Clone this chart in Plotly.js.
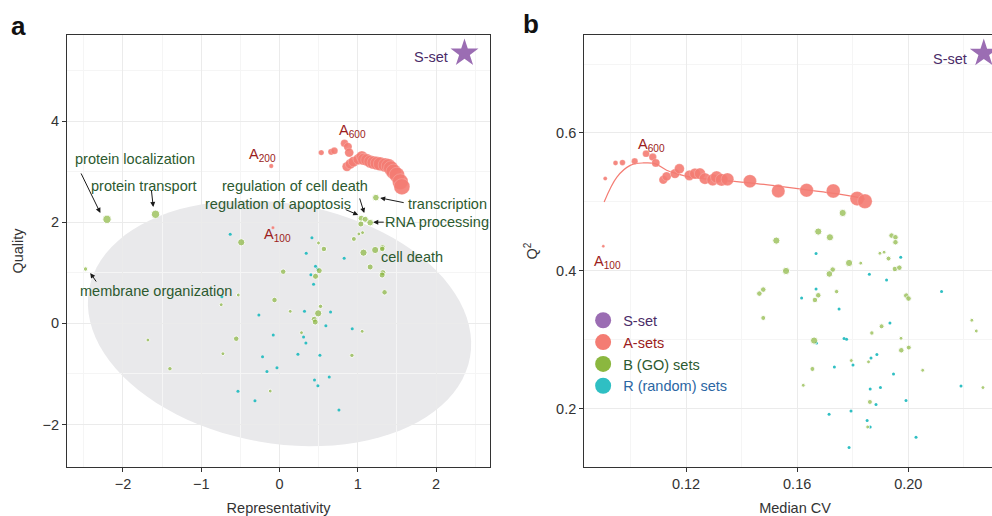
<!DOCTYPE html>
<html>
<head>
<meta charset="utf-8">
<script src="https://cdn.plot.ly/plotly-3.0.1.min.js"></script>
<style>
html, body { margin: 0; padding: 0; overflow: hidden; background: #fff; }
#chart { width: 1006px; height: 516px; }
</style>
</head>
<body>
<div id="chart"></div>
<script>
// ---------- DATA ----------
// A-sets (ordered by set size)
const aSetSizes = [100,200,300,400,500,600,700,800,900,1000,1100,1200,1300,1400,1500,1600,1700,1800,1900,2000,2100,2200,2300,2400,2500,2600];
// panel a: Representativity / Quality
const aRepr = [-0.084,-0.106,0.533,0.660,0.700,0.830,0.873,0.890,0.861,0.903,0.945,1.009,1.052,1.073,1.116,1.158,1.201,1.244,1.286,1.350,1.392,1.423,1.456,1.499,1.542,1.563];
const aQual = [1.891,3.112,3.375,3.390,3.410,3.560,3.490,3.375,3.098,3.151,3.197,3.244,3.296,3.244,3.230,3.197,3.178,3.165,3.151,3.131,3.112,3.066,2.999,2.934,2.801,2.702];
// panel b: Median CV / Q2
const aCV = [0.0902,0.0909,0.0946,0.0971,0.1015,0.1056,0.1080,0.1091,0.1118,0.1130,0.1160,0.1176,0.1212,0.1232,0.1250,0.1268,0.1296,0.1310,0.1328,0.1349,0.1430,0.1532,0.1634,0.1730,0.1816,0.1844];
const aQ2 = [0.4356,0.5338,0.5565,0.5570,0.5590,0.5700,0.5650,0.5565,0.5320,0.5370,0.5410,0.5480,0.5386,0.5410,0.5410,0.5338,0.5320,0.5360,0.5320,0.5328,0.5300,0.5158,0.5168,0.5158,0.5048,0.5009];
// smooth fit through A-sets (panel b)
const fitCV = [0.0905,0.0951,0.0999,0.1046,0.1088,0.1130,0.1166,0.1214,0.1334,0.1454,0.1574,0.1694,0.1814,0.1844];
const fitQ2 = [0.4999,0.5360,0.5530,0.5565,0.5556,0.5460,0.5410,0.5360,0.5313,0.5266,0.5208,0.5144,0.5070,0.5038];

// B (GO) sets, panel a
const bRepr = [-2.204,-1.584,1.231,1.043,1.095,1.039,1.158,1.014,1.061,0.950,-0.489,0.498,0.567,1.316,1.312,1.073,1.222,1.158,1.320,1.311,1.342,0.047,0.507,0.460,-2.478,-0.527,-0.064,-0.745,0.137,0.524,0.494,0.443,0.456,1.056,0.281,-1.681,-0.553,-0.723,0.925,-1.400,-0.119];
const bQual = [2.057,2.156,2.485,2.077,2.057,1.964,1.990,1.767,1.793,1.668,1.602,1.589,1.470,1.496,1.470,1.397,1.450,1.114,1.001,0.955,0.613,1.021,1.041,0.930,1.074,0.560,0.461,0.368,0.237,0.336,0.198,0.079,0.026,-0.158,-0.185,-0.330,-0.304,-0.601,-0.633,-0.897,-1.339];
const bSizeA = [7,7,5.5,5,5,5,5.5,3,3,4,6,3,4.5,5,4.5,6,6,5,5,5,4.5,4.5,5,5,3.5,3,4.5,3,3,3.5,6,5,5,3,3,3,4.5,3,3.5,3.5,3];
// B (GO) sets, panel b
const bCV = [0.1676,0.1718,0.1525,0.1940,0.1954,0.1954,0.1898,0.1913,0.1929,0.1787,0.1829,0.1560,0.1728,0.1716,0.1952,0.1968,0.1478,0.1464,0.1742,0.1676,0.1664,0.1993,0.2001,0.1478,0.1904,0.1869,0.2229,0.2245,0.1661,0.1974,0.2002,0.1975,0.1795,0.1857,0.1655,0.2052,0.1622,0.2269,0.1862,0.1854,0.1764];
const bQ2 = [0.4569,0.4486,0.4438,0.4511,0.4486,0.4414,0.4254,0.4270,0.4177,0.4113,0.4111,0.3997,0.4017,0.3954,0.4026,0.4045,0.3727,0.3669,0.3698,0.3644,0.3576,0.3640,0.3597,0.3315,0.3194,0.3097,0.3282,0.3126,0.2987,0.3020,0.2885,0.2846,0.2697,0.2678,0.2575,0.2556,0.2338,0.2305,0.2096,0.1733,0.4839];
const bSizeB = [6,6,6,4.5,4.5,4.5,3,3,4,6,3,6,4.5,5.5,4.5,4.5,4.5,4.5,3.5,4.5,4.5,4.5,4.5,4,4,3.5,3,3,6,3,4,4.5,3,3,4,3,3,3,4,3,6];

// R (random) sets, panel a
const rRepr = [-0.630,0.414,0.341,0.826,0.460,0.486,0.401,0.435,-0.736,-0.264,0.319,0.652,0.592,0.929,-0.080,0.307,0.337,-0.217,0.235,0.516,-0.033,-0.161,0.635,0.447,0.490,-0.531,-0.314,0.759];
const rQual = [1.760,1.694,1.385,1.286,1.128,1.074,0.962,0.771,0.527,0.164,0.237,0.224,-0.047,-0.106,-0.231,-0.271,-0.390,-0.660,-0.613,-0.633,-0.878,-0.950,-1.062,-1.122,-1.234,-1.345,-1.531,-1.715];
// R (random) sets, panel b
const rCV = [0.1668,0.1973,0.1860,0.1922,0.1668,0.2120,0.1616,0.1751,0.1934,0.1769,0.1778,0.1670,0.1887,0.1866,0.1801,0.1734,0.1947,0.1900,0.1863,0.2190,0.1992,0.1884,0.1794,0.1715,0.1852,0.1863,0.2028,0.1787];
const rQ2 = [0.4250,0.4196,0.3949,0.3867,0.3736,0.3698,0.3605,0.3446,0.3242,0.3016,0.3006,0.2952,0.2784,0.2734,0.2633,0.2604,0.2502,0.2305,0.2284,0.2328,0.2116,0.2058,0.1965,0.1917,0.1826,0.1733,0.1583,0.1434];

// S-set
const sRepr = [2.363], sQual = [5.341];
const sCV = [0.2272], sQ2 = [0.7157];

// Random-set region (ellipse) around the centre, in data units
const ellCentre = [0, 0];
const ellAxisX = [2.434, -0.266];   // x-components of the two semi-axes
const ellAxisY = [-0.665, -2.336];  // y-components of the two semi-axes

const groupNames = ['S-set','A-sets','B (GO) sets','R (random) sets'];

// ---------- STYLE ----------
const COL = { S: '#9B6DB3', A: '#F47C73', B: '#8BB73F', R: '#2FBFC3' };
const TXT = { S: '#4A2C68', A: '#9B1C20', B: '#2C5A2F', R: '#2B66A3' };
const FONT = 'Liberation Sans, Arial, Helvetica, sans-serif';
const FS = 14.5;

const aDiamB = aSetSizes.map(n => 14.5 * Math.sqrt(n / 2600));
const aDiamA = aSetSizes.map(n => 16 * Math.sqrt(n / 2600));
const grow = s => s * 1.12 + 0.5;

// ellipse path
let pth = '';
for (let i = 0; i <= 96; i++) {
  const t = 2 * Math.PI * i / 96;
  const x = ellCentre[0] + ellAxisX[0] * Math.cos(t) + ellAxisX[1] * Math.sin(t);
  const y = ellCentre[1] + ellAxisY[0] * Math.cos(t) + ellAxisY[1] * Math.sin(t);
  pth += (i === 0 ? 'M' : 'L') + x.toFixed(4) + ',' + y.toFixed(4);
}
pth += 'Z';

const traces = [
  // panel a
  { x: rRepr, y: rQual, type: 'scatter', mode: 'markers', xaxis: 'x', yaxis: 'y', showlegend: false,
    marker: { color: COL.R, size: 3 }, name: groupNames[3] },
  { x: bRepr, y: bQual, type: 'scatter', mode: 'markers', xaxis: 'x', yaxis: 'y', showlegend: false,
    marker: { color: COL.B, size: bSizeA.map(grow) }, name: groupNames[2] },
  { x: aRepr, y: aQual, type: 'scatter', mode: 'markers', xaxis: 'x', yaxis: 'y', showlegend: false,
    marker: { color: COL.A, size: aDiamA, opacity: 0.9, line: { color: 'rgba(255,255,255,0.45)', width: 0.5 } }, name: groupNames[1] },
  { x: sRepr, y: sQual, type: 'scatter', mode: 'markers', xaxis: 'x', yaxis: 'y', showlegend: false,
    marker: { color: COL.S, size: 21, symbol: 'star' }, name: groupNames[0] },
  // panel b
  { x: rCV, y: rQ2, type: 'scatter', mode: 'markers', xaxis: 'x2', yaxis: 'y2', showlegend: false,
    marker: { color: COL.R, size: 3 }, name: groupNames[3] },
  { x: bCV, y: bQ2, type: 'scatter', mode: 'markers', xaxis: 'x2', yaxis: 'y2', showlegend: false,
    marker: { color: COL.B, size: bSizeB.map(grow) }, name: groupNames[2] },
  { x: fitCV, y: fitQ2, type: 'scatter', mode: 'lines', xaxis: 'x2', yaxis: 'y2', showlegend: false,
    line: { color: COL.A, width: 1.2, shape: 'spline', smoothing: 1 }, name: 'fit' },
  { x: aCV, y: aQ2, type: 'scatter', mode: 'markers', xaxis: 'x2', yaxis: 'y2', showlegend: false,
    marker: { color: COL.A, size: aDiamB, opacity: 0.9, line: { color: 'rgba(255,255,255,0.45)', width: 0.5 } }, name: groupNames[1] },
  { x: sCV, y: sQ2, type: 'scatter', mode: 'markers', xaxis: 'x2', yaxis: 'y2', showlegend: false,
    marker: { color: COL.S, size: 21, symbol: 'star' }, name: groupNames[0] },
];
// legend entries
const legCols = [COL.S, COL.A, COL.B, COL.R];
const legTxt = [TXT.S, TXT.A, TXT.B, TXT.R];
groupNames.forEach((g, i) => {
  traces.push({ x: [null], y: [null], type: 'scatter', mode: 'markers', xaxis: 'x2', yaxis: 'y2',
    name: '<span style="color:' + legTxt[i] + '">' + g + '</span>', showlegend: true,
    marker: { color: legCols[i], size: 16, symbol: 'circle' } });
});

const W = 1006, H = 516;
const mL = 66.7, mT = 34.7, mB = 49.3;
const plotW = W - mL;
const axisCommon = {
  showline: true, mirror: true, linecolor: '#333', linewidth: 1,
  ticks: 'outside', ticklen: 4, tickcolor: '#333', tickwidth: 1,
  showgrid: true, gridcolor: '#EBEBEB', gridwidth: 1, zeroline: false,
  tickfont: { family: FONT, size: FS, color: '#333' },
};

function arrow(x, y, ax, ay) {
  return { x: x, y: y, ax: ax, ay: ay, xref: 'x', yref: 'y', text: '', showarrow: true,
    arrowhead: 2, arrowsize: 1, arrowwidth: 1, arrowcolor: '#1a1a1a', standoff: 0 };
}
function lbl(x, y, text, color, xr, yr, xanchor) {
  return { x: x, y: y, xref: xr || 'x', yref: yr || 'y', text: text, showarrow: false,
    xanchor: xanchor || 'center', yanchor: 'middle', font: { family: FONT, size: FS, color: color } };
}

const layout = {
  width: W, height: H,
  margin: { l: mL, r: 0, t: mT, b: mB, pad: 0 },
  paper_bgcolor: '#fff', plot_bgcolor: '#fff',
  font: { family: FONT, size: FS, color: '#333' },
  showlegend: true,
  legend: { x: (583 - mL) / plotW, y: (H - mB - 304) / (H - mT - mB), xanchor: 'left', yanchor: 'top',
    bgcolor: 'rgba(0,0,0,0)', font: { family: FONT, size: FS }, itemclick: false },
  xaxis: Object.assign({}, axisCommon, {
    domain: [0, (490 - mL) / plotW], range: [-2.715, 2.691], dtick: 1, tick0: 0,
    minor: { dtick: 0.5, tick0: 0, showgrid: true, gridcolor: '#F5F5F5', gridwidth: 1, ticks: '' },
    title: { text: 'Representativity', font: { family: FONT, size: FS, color: '#333' } }, anchor: 'y' }),
  yaxis: Object.assign({}, axisCommon, {
    domain: [0, 1], range: [-2.84, 5.70], dtick: 2, tick0: 0,
    minor: { dtick: 1, tick0: 0, showgrid: true, gridcolor: '#F5F5F5', gridwidth: 1, ticks: '' },
    title: { text: 'Quality', standoff: 15, font: { family: FONT, size: FS, color: '#333' } }, anchor: 'x' }),
  xaxis2: Object.assign({}, axisCommon, {
    domain: [(584 - mL) / plotW, 1], range: [0.0833, 0.2352], dtick: 0.04, tick0: 0, tickformat: '.2f',
    minor: { dtick: 0.02, tick0: 0, showgrid: true, gridcolor: '#F5F5F5', gridwidth: 1, ticks: '' },
    title: { text: 'Median CV', font: { family: FONT, size: FS, color: '#333' } }, anchor: 'y2' }),
  yaxis2: Object.assign({}, axisCommon, {
    domain: [0, 1], range: [0.1152, 0.7422], dtick: 0.2, tick0: 0, tickformat: '.1f',
    minor: { dtick: 0.1, tick0: 0, showgrid: true, gridcolor: '#F5F5F5', gridwidth: 1, ticks: '' },
    title: { text: 'Q<sup>2</sup>', standoff: 14, font: { family: FONT, size: FS, color: '#333' } }, anchor: 'x2' }),
  shapes: [
    { type: 'path', xref: 'x', yref: 'y', path: pth, fillcolor: '#E9E9EB', line: { width: 0 }, layer: 'below' }
  ],
  annotations: [
    // panel letters
    { xref: 'paper', yref: 'paper', x: (9 - mL) / plotW, y: (H - mB - 26) / (H - mT - mB), xanchor: 'left', yanchor: 'middle',
      text: '<b>a</b>', showarrow: false, font: { family: FONT, size: 26, color: '#111' } },
    { xref: 'paper', yref: 'paper', x: (521 - mL) / plotW, y: (H - mB - 24) / (H - mT - mB), xanchor: 'left', yanchor: 'middle',
      text: '<b>b</b>', showarrow: false, font: { family: FONT, size: 26, color: '#111' } },
    // panel a labels
    lbl(2.18, 5.27, 'S-set', TXT.S, 'x', 'y', 'right'),
    lbl(0.93, 3.80, 'A<sub>600</sub>', TXT.A),
    lbl(-0.22, 3.33, 'A<sub>200</sub>', TXT.A),
    lbl(-0.03, 1.75, 'A<sub>100</sub>', TXT.A),
    lbl(-1.849, 3.25, 'protein localization', TXT.B),
    lbl(-1.728, 2.716, 'protein transport', TXT.B),
    lbl(0.201, 2.716, 'regulation of cell death', TXT.B),
    lbl(-0.023, 2.36, 'regulation of apoptosis', TXT.B),
    lbl(2.148, 2.36, 'transcription', TXT.B),
    lbl(2.008, 2.004, 'RNA processing', TXT.B),
    lbl(1.695, 1.312, 'cell death', TXT.B),
    lbl(-1.581, 0.639, 'membrane organization', TXT.B),
    arrow(-2.289, 2.182, -20, -41),
    arrow(-1.613, 2.301, -2, -18),
    arrow(1.082, 2.182, -5, -16),
    arrow(1.005, 2.142, -14, -6),
    arrow(1.286, 2.479, 25, 5),
    arrow(1.197, 2.000, 12, 0),
    arrow(-2.418, 0.995, 7, 10),
    // panel b labels
    lbl(0.2219, 0.707, 'S-set', TXT.S, 'x2', 'y2', 'right'),
    lbl(0.1074, 0.583, 'A<sub>600</sub>', TXT.A, 'x2', 'y2'),
    lbl(0.0916, 0.413, 'A<sub>100</sub>', TXT.A, 'x2', 'y2'),
  ],
};

Plotly.newPlot('chart', traces, layout, { displayModeBar: false, staticPlot: true });
</script>
</body>
</html>
